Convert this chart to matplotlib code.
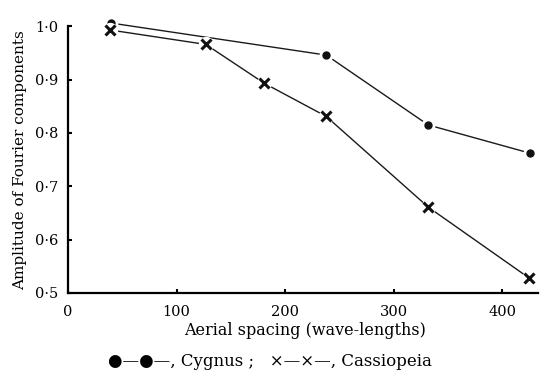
import matplotlib.pyplot as plt

# values
cygnus_x = [40, 238, 332, 426]
cygnus_y = [1.006, 0.946, 0.815, 0.762]
cass_x = [39, 127, 181, 238, 332, 425]
cass_y = [0.993, 0.966, 0.893, 0.831, 0.661, 0.528]

x_ticks = [0, 100, 200, 300, 400]
y_ticks = [0.5, 0.6, 0.7, 0.8, 0.9, 1.0]
y_labels = ['0·5', '0·6', '0·7', '0·8', '0·9', '1·0']

plt.rcParams['font.family'] = ['DejaVu Serif']

fig = plt.figure(figsize=(5.4, 3.73), dpi=100)
ax = fig.add_axes([0.126, 0.2145, 0.87, 0.715])

# white halos under markers make the little gaps in the lines
ax.plot(cygnus_x, cygnus_y, color='#1a1a1a', linewidth=1.0, clip_on=False)
ax.plot(cygnus_x, cygnus_y, linestyle='none', marker='o', markersize=9,
        color='white', clip_on=False)
ax.plot(cygnus_x, cygnus_y, linestyle='none', marker='o', markersize=5,
        color='#111111', clip_on=False)

ax.plot(cass_x, cass_y, color='#1a1a1a', linewidth=1.0, clip_on=False)
ax.plot(cass_x, cass_y, linestyle='none', marker='o', markersize=10,
        color='white', clip_on=False)
ax.plot(cass_x, cass_y, linestyle='none', marker='x', markersize=7,
        markeredgewidth=2.2, color='#111111', clip_on=False)

ax.set_xlim(0, 433)
ax.set_ylim(0.5, 1.0)
ax.set_xticks(x_ticks)
ax.set_yticks(y_ticks)
ax.set_yticklabels(y_labels)
ax.tick_params(direction='in', length=3, width=1.5, labelsize=10.5)
ax.tick_params(axis='x', pad=9)
ax.tick_params(axis='y', pad=7)

for side in ['top', 'right']:
    ax.spines[side].set_visible(False)
for side in ['left', 'bottom']:
    ax.spines[side].set_linewidth(1.6)

ax.set_xlabel('Aerial spacing (wave-lengths)', fontsize=11.5)
ax.xaxis.set_label_coords(0.505, -0.11)
ax.set_ylabel('Amplitude of Fourier components', fontsize=11, labelpad=6)

fig.text(0.5, 0.03, '●—●—, Cygnus ;   ×—×—, Cassiopeia',
         ha='center', va='center', fontsize=12)

fig.savefig('out.png', dpi=100)
